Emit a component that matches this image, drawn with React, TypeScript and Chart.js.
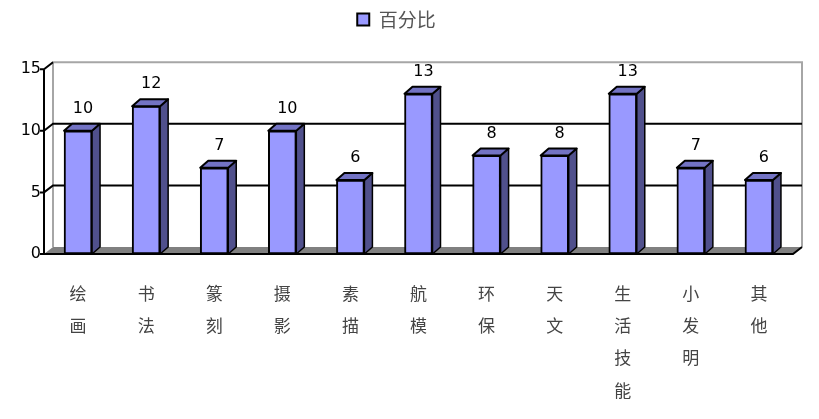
import { useEffect, useRef } from "react";
import { Chart, registerables, type Plugin } from "chart.js";

Chart.register(...registerables);

// data
const categories = ["绘画", "书法", "篆刻", "摄影", "素描", "航模", "环保", "天文", "生活技能", "小发明", "其他"];
const percent = [10, 12, 7, 10, 6, 13, 8, 8, 13, 7, 6];
const seriesName = "百分比";
const yMax = 15;
const yStep = 5;

const FRONT = "#9999ff";
const SIDE = "#50508c";
const TOP = "#7373c4";
const WALL = "#a6a6a6";
const FLOOR = "#808080";
const WALL_DEPTH = { x: 9, y: 7 };
const BAR_DEPTH = { x: 8, y: 7 };

const LATIN = "'DejaVu Sans', Verdana, sans-serif";
const CJK = "'Noto Sans CJK SC', sans-serif";

// fake 3D: floor, back wall, gridlines behind, side/top faces + values in front
const box3d: Plugin<"bar"> = {
  id: "box3d",
  beforeDatasetsDraw(chart) {
    const { ctx, chartArea: a, scales } = chart;
    const ys = scales.y;
    const dx = WALL_DEPTH.x;
    const dy = WALL_DEPTH.y;
    ctx.save();

    ctx.fillStyle = FLOOR;
    ctx.beginPath();
    ctx.moveTo(a.left, a.bottom);
    ctx.lineTo(a.left + dx, a.bottom - dy);
    ctx.lineTo(a.right + dx, a.bottom - dy);
    ctx.lineTo(a.right, a.bottom);
    ctx.closePath();
    ctx.fill();

    ctx.strokeStyle = WALL;
    ctx.lineWidth = 2;
    ctx.beginPath();
    ctx.moveTo(a.left + dx, a.bottom - dy);
    ctx.lineTo(a.left + dx, a.top - dy);
    ctx.lineTo(a.right + dx, a.top - dy);
    ctx.lineTo(a.right + dx, a.bottom - dy);
    ctx.stroke();

    ctx.strokeStyle = "#000";
    ys.ticks.forEach((t) => {
      const py = ys.getPixelForValue(t.value);
      ctx.beginPath();
      if (t.value > ys.min && t.value < ys.max) {
        ctx.moveTo(a.left, py);
        ctx.lineTo(a.left + dx, py - dy);
        ctx.lineTo(a.right + dx, py - dy);
      } else if (t.value === ys.max) {
        ctx.moveTo(a.left, py);
        ctx.lineTo(a.left + dx, py - dy);
      }
      ctx.moveTo(a.left - 4, py);
      ctx.lineTo(a.left, py);
      ctx.stroke();
    });

    ctx.beginPath();
    ctx.moveTo(a.left, a.top);
    ctx.lineTo(a.left, a.bottom);
    ctx.lineTo(a.right, a.bottom);
    ctx.lineTo(a.right + dx, a.bottom - dy);
    ctx.stroke();
    ctx.restore();
  },
  afterDatasetsDraw(chart) {
    const { ctx } = chart;
    const meta = chart.getDatasetMeta(0);
    const dx = BAR_DEPTH.x;
    const dy = BAR_DEPTH.y;
    ctx.save();
    ctx.strokeStyle = "#000";
    ctx.lineJoin = "round";
    meta.data.forEach((el, i) => {
      const { x, y, base, width } = el.getProps(["x", "y", "base", "width"], true) as any;
      const l = x - width / 2;
      const r = x + width / 2;

      ctx.fillStyle = SIDE;
      ctx.lineWidth = 1.5;
      ctx.beginPath();
      ctx.moveTo(r, y);
      ctx.lineTo(r + dx, y - dy);
      ctx.lineTo(r + dx, base - dy);
      ctx.lineTo(r, base);
      ctx.closePath();
      ctx.fill();
      ctx.stroke();

      ctx.fillStyle = TOP;
      ctx.lineWidth = 2;
      ctx.beginPath();
      ctx.moveTo(l, y);
      ctx.lineTo(l + dx, y - dy);
      ctx.lineTo(r + dx, y - dy);
      ctx.lineTo(r, y);
      ctx.closePath();
      ctx.fill();
      ctx.stroke();

      ctx.fillStyle = "#000";
      ctx.font = `16px ${LATIN}`;
      ctx.textAlign = "center";
      ctx.textBaseline = "middle";
      ctx.fillText(String(percent[i]), x + 5, y - dy - 15);
    });
    ctx.restore();
  },
};

export default function App() {
  const canvasRef = useRef<HTMLCanvasElement>(null);

  useEffect(() => {
    if (!canvasRef.current) return;
    const chart = new Chart(canvasRef.current, {
      type: "bar",
      data: {
        labels: categories.map((c) => Array.from(c)),
        datasets: [
          {
            label: seriesName,
            data: percent,
            backgroundColor: FRONT,
            borderColor: "#000",
            borderWidth: 2,
            borderSkipped: false,
            barThickness: 28,
          },
        ],
      },
      options: {
        responsive: false,
        animation: false,
        layout: { padding: { left: 0, right: 26, top: 0, bottom: 0 } },
        plugins: {
          legend: {
            position: "top",
            labels: {
              boxWidth: 12,
              boxHeight: 12,
              padding: 10,
              color: "#555",
              font: { family: CJK, size: 19 },
            },
          },
          // empty title used as a spacer between legend and plot
          title: {
            display: true,
            text: " ",
            weight: 500,
            font: { size: 1 },
            padding: { top: 0, bottom: 29 },
          } as any,
          tooltip: { enabled: false },
        },
        scales: {
          x: {
            grid: { display: false, drawTicks: false },
            border: { display: false },
            ticks: {
              padding: 23,
              color: "#444",
              autoSkip: false,
              maxRotation: 0,
              font: { family: CJK, size: 17, lineHeight: 1.9 },
            },
            afterFit: (s) => {
              s.height = 165;
            },
          },
          y: {
            min: 0,
            max: yMax,
            grid: { display: false, drawTicks: false },
            border: { display: false },
            ticks: {
              stepSize: yStep,
              padding: 3,
              color: "#000",
              font: { family: LATIN, size: 16 },
            },
            afterFit: (s) => {
              s.width = 44;
            },
          },
        },
      },
      plugins: [box3d],
    });
    return () => chart.destroy();
  }, []);

  return (
    <div style={{ position: "fixed", left: 0, top: 0, width: 819, height: 419, background: "#fff" }}>
      <canvas ref={canvasRef} width={819} height={419} style={{ display: "block" }} />
    </div>
  );
}
